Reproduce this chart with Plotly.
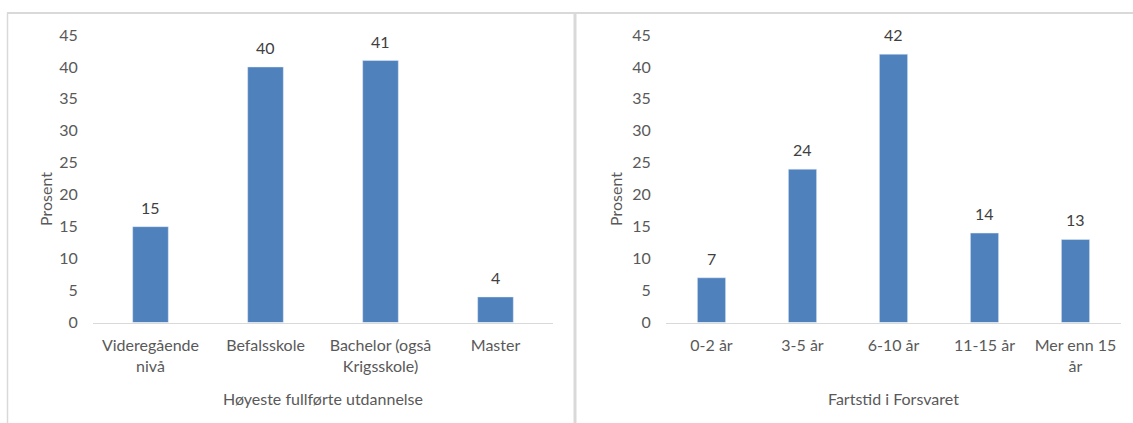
import plotly.graph_objects as go

W, H = 1133, 423

edu_categories = ["Videregående<br>nivå", "Befalsskole", "Bachelor (også<br>Krigsskole)", "Master"]
edu_values = [15, 40, 41, 4]

tenure_categories = ["0-2 år", "3-5 år", "6-10 år", "11-15 år", "Mer enn 15<br>år"]
tenure_values = [7, 24, 42, 14, 13]

y_ticks = [0, 5, 10, 15, 20, 25, 30, 35, 40, 45]

BAR = "#4f81bd"
TXT = "#595959"
LBL = "#404040"
BORDER = "#d9d9d9"
FONT = "Lato"
FS = 16


def px_x(v):
    return v / W


def px_y(v):
    return 1 - v / H


fig = go.Figure()
fig.add_trace(go.Bar(x=edu_categories, y=edu_values, marker_color=BAR,
                     xaxis="x", yaxis="y", showlegend=False, hoverinfo="x+y"))
fig.add_trace(go.Bar(x=tenure_categories, y=tenure_values, marker_color=BAR,
                     xaxis="x2", yaxis="y2", showlegend=False, hoverinfo="x+y"))

annotations = []
for cats, vals, xr, yr in [(edu_categories, edu_values, "x", "y"),
                           (tenure_categories, tenure_values, "x2", "y2")]:
    for c, v in zip(cats, vals):
        annotations.append(dict(text=str(v), x=c, y=v, xref=xr, yref=yr,
                                xanchor="center", yanchor="bottom", yshift=8,
                                showarrow=False,
                                font=dict(size=FS, color=LBL, family=FONT)))

xcommon = dict(showline=True, linecolor=BORDER, linewidth=1, showgrid=False,
               ticks="outside", ticklen=8, tickcolor="rgba(0,0,0,0)",
               tickfont=dict(color=TXT, size=FS, family=FONT), fixedrange=True)
ycommon = dict(range=[0, 45], tickvals=y_ticks, showgrid=False, zeroline=False,
               showline=False, ticks="outside", ticklen=11, tickcolor="rgba(0,0,0,0)",
               tickfont=dict(color=TXT, size=FS, family=FONT),
               domain=[px_y(322.5), px_y(35)], fixedrange=True)

title_font = dict(size=FS, color=TXT, family=FONT)
annotations += [
    dict(text="Høyeste fullførte utdannelse", xref="paper", yref="paper",
         x=px_x(323), y=px_y(398), xanchor="center", yanchor="middle",
         showarrow=False, font=title_font),
    dict(text="Fartstid i Forsvaret", xref="paper", yref="paper",
         x=px_x(893), y=px_y(398), xanchor="center", yanchor="middle",
         showarrow=False, font=title_font),
    dict(text="Prosent", xref="paper", yref="paper", textangle=-90,
         x=px_x(45), y=px_y(199), xanchor="center", yanchor="middle",
         showarrow=False, font=title_font),
    dict(text="Prosent", xref="paper", yref="paper", textangle=-90,
         x=px_x(615), y=px_y(199), xanchor="center", yanchor="middle",
         showarrow=False, font=title_font),
]

fig.update_layout(
    width=W, height=H, margin=dict(l=0, r=0, t=0, b=0, autoexpand=False),
    paper_bgcolor="white", plot_bgcolor="white",
    bargap=0.69,
    font=dict(family=FONT, color=TXT, size=FS),
    xaxis=dict(domain=[px_x(93), px_x(553)], anchor="y", **xcommon),
    yaxis=dict(anchor="x", **ycommon),
    xaxis2=dict(domain=[px_x(666), px_x(1121)], anchor="y2", **xcommon),
    yaxis2=dict(anchor="x2", **ycommon),
    shapes=[
        dict(type="line", xref="paper", yref="paper", x0=px_x(7), x1=1.01,
             y0=px_y(13), y1=px_y(13), line=dict(color=BORDER, width=2)),
        dict(type="line", xref="paper", yref="paper", x0=px_x(7.5), x1=px_x(7.5),
             y0=-0.05, y1=px_y(13), line=dict(color=BORDER, width=1.5)),
        dict(type="line", xref="paper", yref="paper", x0=px_x(575), x1=px_x(575),
             y0=-0.05, y1=px_y(13), line=dict(color=BORDER, width=3)),
    ],
    annotations=annotations,
)

fig.write_html(
    "out.html",
    post_script="document.body.style.margin='0';document.body.style.overflow='hidden';",
)
